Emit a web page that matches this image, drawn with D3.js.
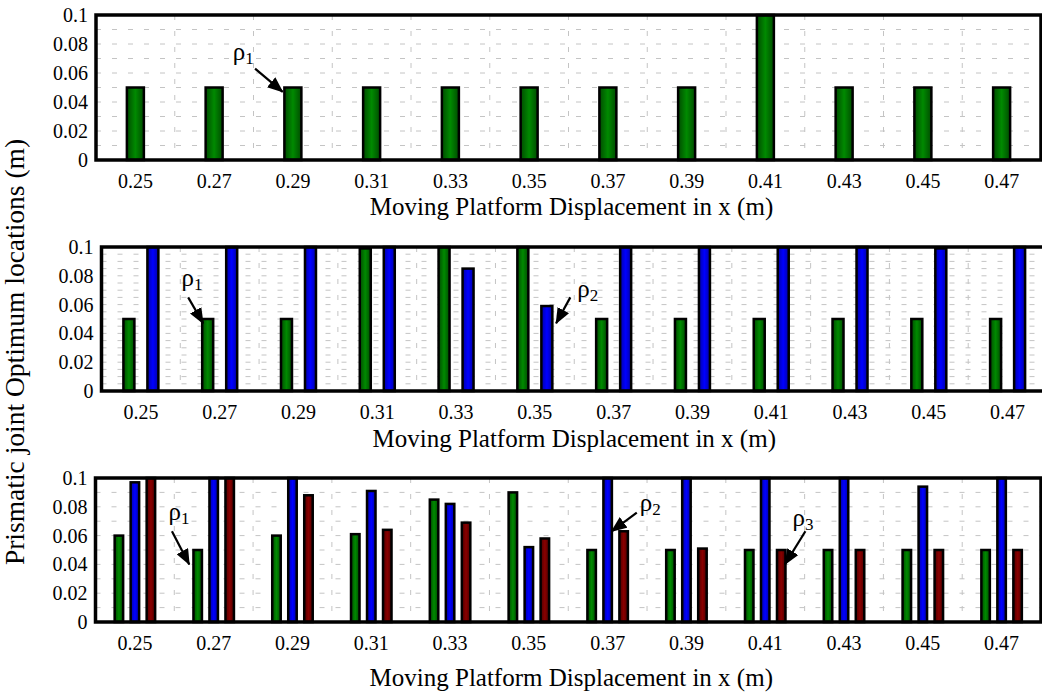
<!DOCTYPE html>
<html>
<head>
<meta charset="utf-8">
<script src="https://cdn.jsdelivr.net/npm/d3@7"></script>
<style>
  body { margin: 0; background: #fff; }
  svg, svg text { font-family: "Liberation Serif", "Times New Roman", serif; }
  svg { display: block; }
</style>
</head>
<body>
<div id="chart"></div>
<script>
// x categories (moving platform displacement, m)
const categories = ["0.25", "0.27", "0.29", "0.31", "0.33", "0.35", "0.37", "0.39", "0.41", "0.43", "0.45", "0.47"];
const yTicks = [0, 0.02, 0.04, 0.06, 0.08, 0.1];

// panel 1: one prismatic joint
const top_rho1 = [0.05, 0.05, 0.05, 0.05, 0.05, 0.05, 0.05, 0.05, 0.1, 0.05, 0.05, 0.05];
// panel 2: two joints
const mid_rho1 = [0.05, 0.05, 0.05, 0.099, 0.1, 0.1, 0.05, 0.05, 0.05, 0.05, 0.05, 0.05];
const mid_rho2 = [0.1, 0.1, 0.1, 0.1, 0.085, 0.059, 0.1, 0.1, 0.1, 0.1, 0.099, 0.1];
// panel 3: three joints
const bot_rho1 = [0.06, 0.05, 0.06, 0.061, 0.085, 0.09, 0.05, 0.05, 0.05, 0.05, 0.05, 0.05];
const bot_rho2 = [0.097, 0.1, 0.1, 0.091, 0.082, 0.052, 0.1, 0.1, 0.1, 0.1, 0.094, 0.1];
const bot_rho3 = [0.1, 0.1, 0.088, 0.064, 0.069, 0.058, 0.063, 0.051, 0.05, 0.05, 0.05, 0.05];

// annotations: [category, offset in bands, value] for text and arrow
const top_notes = [{ sub: "1", text: ["0.29", -0.63, 0.069], from: ["0.29", -0.48, 0.063], to: ["0.29", -0.13, 0.047] }];
const mid_notes = [
    { sub: "1", text: ["0.27", -0.35, 0.073], from: ["0.27", -0.40, 0.065], to: ["0.27", -0.21, 0.047] },
    { sub: "2", text: ["0.35", 0.67, 0.065], from: ["0.35", 0.45, 0.065], to: ["0.35", 0.27, 0.047] }
];
const bot_notes = [
    { sub: "1", text: ["0.27", -0.44, 0.071], from: ["0.27", -0.53, 0.063], to: ["0.27", -0.31, 0.040] },
    { sub: "2", text: ["0.37", 0.54, 0.077], from: ["0.37", 0.37, 0.076], to: ["0.37", 0.05, 0.063] },
    { sub: "3", text: ["0.41", 0.48, 0.067], from: ["0.41", 0.51, 0.063], to: ["0.41", 0.25, 0.040] }
];

const width = 1042, height = 694;
const font = "Liberation Serif";
const colors = { rho1: ["#004c00", "#008a00"], rho2: ["#0000a8", "#0000ff"], rho3: ["#4e0000", "#8a0000"] };

const panels = [
    { left: 96, right: 1041, top: 15, bottom: 160, barW: 17, grid: 0.01, titleY: 215,
      series: [["rho1", top_rho1]], notes: top_notes },
    { left: 101.5, right: 1047, top: 247, bottom: 391, barW: 11, grid: 0.005, titleY: 447,
      series: [["rho1", mid_rho1], ["rho2", mid_rho2]], notes: mid_notes },
    { left: 95.5, right: 1041, top: 478, bottom: 622, barW: 8.5, grid: 0.01, titleY: 686,
      series: [["rho1", bot_rho1], ["rho2", bot_rho2], ["rho3", bot_rho3]], notes: bot_notes }
];

let svg = d3.select("#chart")
    .append("svg")
    .attr("width", width)
    .attr("height", height);

let defs = svg.append("defs");
for (let k in colors) { // darker at the bar edges
    let g = defs.append("linearGradient").attr("id", "g_" + k);
    g.append("stop").attr("offset", "0%").attr("stop-color", colors[k][0]);
    g.append("stop").attr("offset", "50%").attr("stop-color", colors[k][1]);
    g.append("stop").attr("offset", "100%").attr("stop-color", colors[k][0]);
}
defs.append("marker")
    .attr("id", "arrow")
    .attr("markerUnits", "userSpaceOnUse")
    .attr("viewBox", "0 0 16 13")
    .attr("refX", 15).attr("refY", 6.5)
    .attr("markerWidth", 16).attr("markerHeight", 13)
    .attr("orient", "auto")
    .append("path")
    .attr("d", "M0,0L16,6.5L0,13Z")
    .attr("fill", "#000");

panels.forEach(p => {
    let g = svg.append("g");

    let x = d3.scaleBand()
        .domain(categories)
        .range([p.left, p.right]);

    let inner = d3.scaleBand() // series slots inside each category
        .domain(p.series.map(s => s[0]))
        .range([-24, 24]);

    let y = d3.scaleLinear()
        .domain([0, 0.1])
        .range([p.bottom, p.top]);

    let cx = c => x(c) + x.bandwidth() / 2;
    let pos = a => [cx(a[0]) + a[1] * x.step(), y(a[2])];

    // dashed grid
    let hg = d3.range(1, Math.round(0.1 / p.grid)).map(i => i * p.grid);
    g.append("g").selectAll("line")
        .data(hg)
        .join("line")
        .attr("x1", p.left).attr("x2", p.right)
        .attr("y1", d => y(d)).attr("y2", d => y(d))
        .attr("stroke", "#c4c4c4").attr("stroke-dasharray", "5,11");
    g.append("g").selectAll("line")
        .data(categories.slice(1))
        .join("line")
        .attr("x1", d => x(d)).attr("x2", d => x(d))
        .attr("y1", p.top).attr("y2", p.bottom)
        .attr("stroke", "#c4c4c4").attr("stroke-dasharray", "5,11");

    // bars
    p.series.forEach(([name, vals]) => {
        g.append("g").selectAll("rect")
            .data(vals.map((v, i) => ({ cat: categories[i], v: v })))
            .join("rect")
            .attr("x", d => cx(d.cat) + inner(name) + inner.bandwidth() / 2 - p.barW / 2)
            .attr("width", p.barW)
            .attr("y", d => y(d.v))
            .attr("height", d => y(0) - y(d.v))
            .attr("fill", "url(#g_" + name + ")")
            .attr("stroke", "#000")
            .attr("stroke-width", 2.5);
    });

    // frame
    g.append("rect")
        .attr("x", p.left).attr("y", p.top)
        .attr("width", p.right - p.left).attr("height", p.bottom - p.top)
        .attr("fill", "none").attr("stroke", "#000").attr("stroke-width", 3.5);

    // axes
    g.append("g")
        .attr("transform", `translate(0,${p.bottom})`)
        .call(d3.axisBottom(x).tickSize(0).tickPadding(14))
        .attr("font-family", font).attr("font-size", 20)
        .call(a => a.select(".domain").remove())
        .selectAll("text").style("font-family", font).attr("fill", "#000");

    g.append("g")
        .attr("transform", `translate(${p.left},0)`)
        .call(d3.axisLeft(y).tickValues(yTicks).tickSize(0).tickPadding(8).tickFormat(d => String(+d.toFixed(2))))
        .attr("font-family", font).attr("font-size", 20)
        .call(a => a.select(".domain").remove())
        .selectAll("text").style("font-family", font).attr("fill", "#000");

    g.append("text")
        .attr("x", (p.left + Math.min(p.right, 1041)) / 2 + 3)
        .attr("y", p.titleY)
        .attr("text-anchor", "middle")
        .attr("font-size", 25)
        .style("font-family", font)
        .text("Moving Platform Displacement in x (m)");

    // rho labels with arrows
    p.notes.forEach(n => {
        let t = pos(n.text), a = pos(n.from), b = pos(n.to);
        let txt = g.append("text")
            .attr("x", t[0]).attr("y", t[1])
            .attr("text-anchor", "middle")
            .attr("font-size", 25)
            .style("font-family", font);
        txt.append("tspan").text("ρ");
        txt.append("tspan").attr("font-size", 17).attr("dy", 4).text(n.sub);
        g.append("line")
            .attr("x1", a[0]).attr("y1", a[1])
            .attr("x2", b[0]).attr("y2", b[1])
            .attr("stroke", "#000").attr("stroke-width", 2.2)
            .attr("marker-end", "url(#arrow)");
    });
});

svg.append("text")
    .attr("transform", "translate(24,352) rotate(-90)")
    .attr("text-anchor", "middle")
    .attr("font-size", 27.5)
    .style("font-family", font)
    .text("Prismatic joint Optimum locations (m)");
</script>
</body>
</html>
